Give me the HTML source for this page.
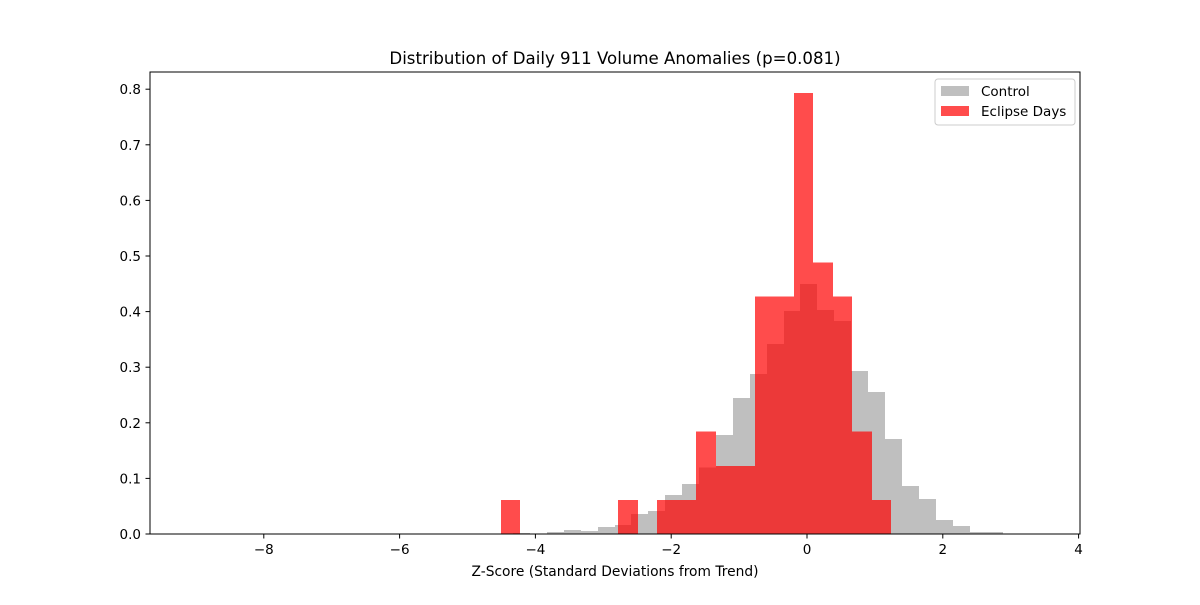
<!DOCTYPE html>
<html><head><meta charset="utf-8"><style>
body{margin:0;background:#fff;}
svg text{font-family:"DejaVu Sans","Liberation Sans",sans-serif;fill:#000;}
</style></head><body>
<svg id="chart" width="1200" height="600" viewBox="0 0 1200 600" xmlns="http://www.w3.org/2000/svg">
<rect width="1200" height="600" fill="#fff"/>
<text x="615" y="64" font-size="16.6" text-anchor="middle">Distribution of Daily 911 Volume Anomalies (p=0.081)</text>
<g id="bars" shape-rendering="crispEdges"></g>
<rect x="150" y="72" width="930" height="462" fill="none" stroke="#000" stroke-width="1"/>
<g id="axes"></g>
<text x="615" y="576" font-size="13.8" text-anchor="middle">Z-Score (Standard Deviations from Trend)</text>
<g>
<rect x="935" y="79" width="140" height="46" rx="3" fill="#fff" stroke="#ccc"/>
<rect x="941" y="86" width="28" height="10" fill="#bfbfbf"/>
<text x="981" y="96" font-size="13.5">Control</text>
<rect x="941" y="106" width="28" height="10" fill="#ff0000" fill-opacity="0.7"/>
<text x="981" y="116" font-size="13.5">Eclipse Days</text>
</g>
</svg>
<script>
const controlStart = -9.06;
const controlWidth = 0.249;
const controlValues = [0,0,0,0,0,0,0,0,0,0,0,0,0,0,0,0,0,0,0,0.002,0,0.004,0.007,0.005,0.013,0.016,0.036,0.041,0.070,0.090,0.12,0.178,0.245,0.288,0.342,0.401,0.450,0.403,0.383,0.293,0.255,0.171,0.086,0.063,0.025,0.014,0.004,0.004,0,0.001];
const eclipseStart = -4.507;
const eclipseWidth = 0.2875;
const eclipseValues = [0.061,0,0,0,0,0,0.061,0,0.061,0.061,0.184,0.122,0.122,0.427,0.427,0.793,0.488,0.427,0.184,0.061];
const xTicks = [-8,-6,-4,-2,0,2,4];
const xTickLabels = ["\u22128","\u22126","\u22124","\u22122","0","2","4"];
const yTicks = [0,0.1,0.2,0.3,0.4,0.5,0.6,0.7,0.8];
const yTickLabels = ["0.0","0.1","0.2","0.3","0.4","0.5","0.6","0.7","0.8"];

const NS="http://www.w3.org/2000/svg";
function xs(v){return 807+v*67.9;}
function ys(v){return 534-v*556;}
const bars=document.getElementById('bars');
const axes=document.getElementById('axes');
function mk(tag,attrs,parent){const e=document.createElementNS(NS,tag);for(const k in attrs)e.setAttribute(k,attrs[k]);parent.appendChild(e);return e;}
controlValues.forEach((v,i)=>{
  if(v<=0)return;
  const x0=Math.round(xs(controlStart+i*controlWidth)),x1=Math.round(xs(controlStart+(i+1)*controlWidth));
  const r=mk('rect',{x:x0,y:ys(v),width:x1-x0,height:ys(0)-ys(v),fill:'#7f7f7f','fill-opacity':0.5},bars);
  
  
});
eclipseValues.forEach((v,i)=>{
  if(v<=0)return;
  const x0=Math.round(xs(eclipseStart+i*eclipseWidth)),x1=Math.round(xs(eclipseStart+(i+1)*eclipseWidth));
  const r=mk('rect',{x:x0,y:ys(v),width:x1-x0,height:ys(0)-ys(v),fill:'#ff0000','fill-opacity':0.7},bars);
  
  
});
xTicks.forEach((t,i)=>{
  const x=xs(t);
  const l=mk('line',{x1:x,x2:x,y1:534,y2:538.5,stroke:'#000'},axes);
  
  
  const tx=mk('text',{x:x,y:554,'font-size':13.5,'text-anchor':'middle'},axes);
  tx.textContent=xTickLabels[i];
  
  
});
yTicks.forEach((t,i)=>{
  const y=ys(t);
  const l=mk('line',{x1:145.5,x2:150,y1:y,y2:y,stroke:'#000'},axes);
  
  
  const tx=mk('text',{x:141,y:y+5,'font-size':13.5,'text-anchor':'end'},axes);
  tx.textContent=yTickLabels[i];
  
  
});
</script>
</body></html>
